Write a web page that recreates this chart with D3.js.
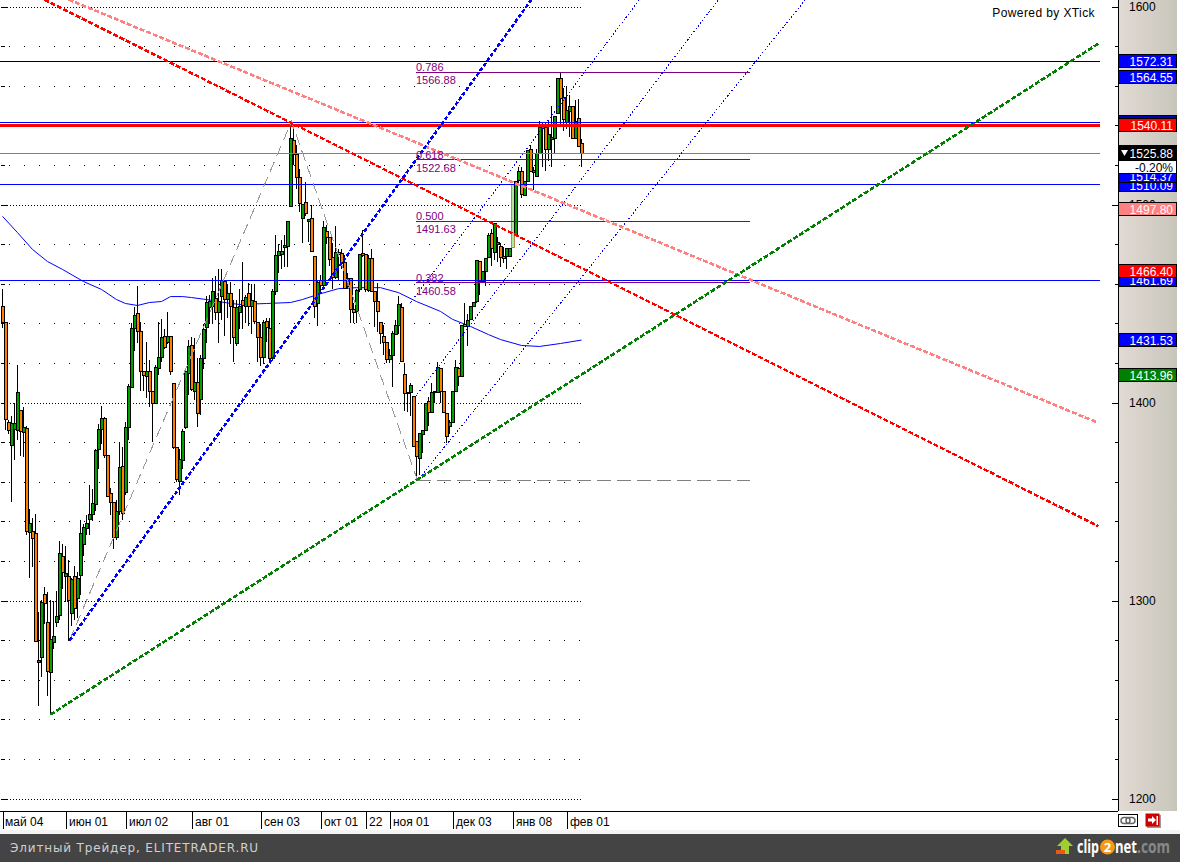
<!DOCTYPE html>
<html><head><meta charset="utf-8">
<script src="https://cdn.jsdelivr.net/npm/d3@7"></script>
<style>html,body{margin:0;padding:0;background:#fff;overflow:hidden}svg{display:block}text{font-family:"Liberation Sans",Arial,sans-serif}</style>
</head><body><div id="c"></div>
<script>
const opens=[1448.5,1440.4,1389.9,1378.3,1386.4,1385.9,1396,1384.9,1386.9,1334.3,
1334.8,1333.8,1268.7,1271.2,1303,1288.9,1263.6,1278.8,1288.9,1292.4,
1322.2,1312.1,1312.1,1293.5,1312.1,1301,1312.6,1328.3,1336.4,1340.9,
1343.5,1348.5,1376.3,1386.4,1391.9,1373.2,1354.1,1349.5,1331.8,1345,
1367.7,1354.6,1387.4,1407.6,1437.4,1445,1435.9,1415.6,1413.1,1415.6,
1405.6,1399.5,1417.2,1422.7,1433.3,1430.3,1433.3,1409.6,1377.3,1360.1,
1370.7,1387.4,1414.6,1428.8,1405.6,1410.1,1401.5,1422.2,1437.9,1448,
1448.5,1452.5,1445.5,1453.5,1461.1,1452,1455,1448,1429.8,1445.5,
1451.5,1448.5,1455,1448.5,1451,1440.4,1432.8,1422.7,1440.9,1437.4,
1422.2,1456,1474.2,1474.7,1478.3,1478.8,1499,1532.3,1525.3,1513.6,
1492.9,1501,1491.4,1492.9,1473.7,1450,1461.6,1459.1,1486.4,1483.3,
1473.2,1463.1,1475.7,1475.2,1470.7,1458.6,1462.6,1447,1446,1457.1,
1475.2,1474.7,1456.5,1472.7,1456,1451,1440.4,1433.3,1430.3,1421.7,
1423.7,1434.4,1438.9,1448,1414.1,1404.5,1405.1,1403,1380.3,1371.7,
1383.9,1385.9,1400.5,1395,1405.1,1405.1,1417.2,1405.6,1394.4,1387.9,
1389.9,1405.6,1417.2,1413.1,1439.4,1438.4,1441.9,1448.5,1451,1471.2,
1461.1,1466.2,1473.2,1485.3,1475.7,1479.8,1478.8,1473.7,1473.7,1473.7,
1510.1,1484.8,1512.1,1516.7,1504.5,1511.6,1527.8,1516.2,1514.1,1525.8,
1538.4,1538.9,1527.8,1532.8,1533.3,1545.9,1563.6,1554,1541.4,1547,
1549.5,1533.3,1543.4,1530.8];
const highs=[1457.1,1440.4,1391.4,1393.4,1400,1418.7,1396,1397.5,1387.9,1346,
1341.9,1343.5,1294,1300.5,1307,1304.5,1300.5,1299.5,1305,1329.8,
1328.3,1327.3,1320.7,1311.6,1317.2,1314.6,1340.9,1338.4,1343,1358.1,
1356.1,1376.3,1388.9,1398,1392.9,1373.2,1356.6,1349.5,1351,1379.8,
1377.3,1390.4,1409.1,1440.4,1448,1458.6,1440.9,1415.6,1430.8,1421.7,
1405.6,1418.7,1440.9,1442.4,1436.9,1445.5,1433.3,1409.6,1377.3,1376.3,
1386.4,1416.7,1431.8,1433.3,1432.8,1422.7,1424.2,1439.4,1454,1454.5,
1463.1,1464.1,1467.2,1467.2,1461.1,1459.6,1461.1,1452,1452,1457.1,
1471.2,1454.5,1460.6,1459.6,1459.6,1440.9,1439.4,1441.9,1442.9,1442.9,
1457.1,1484.8,1479.8,1482.3,1484.8,1491.4,1541.4,1538.9,1530.3,1517.7,
1500,1511.6,1492.4,1499.5,1473.7,1462.1,1464.6,1491.9,1489.4,1483.3,
1480.8,1488.9,1477.3,1477.3,1474.7,1465.6,1462.6,1450.5,1457.1,1474.7,
1486.9,1474.7,1474.7,1477.3,1456,1460.6,1440.4,1438.9,1430.3,1426.8,
1435.9,1441.9,1454,1450.5,1420.2,1405,1409.6,1403,1380.3,1384.4,
1385.9,1399.5,1403,1410.1,1405.6,1420.7,1417.2,1405.6,1394.4,1391.4,
1405.6,1421.7,1417.7,1438.9,1450.5,1444.5,1448.5,1450.5,1471.7,1471.2,
1466.2,1472.7,1485.8,1487.4,1490.4,1483.8,1480.8,1478.3,1477.8,1477.8,
1510.1,1511.6,1518.7,1518.7,1511.6,1527.3,1530.3,1518.7,1527.8,1542.4,
1541.9,1540.4,1542.9,1549.5,1544.4,1563.6,1566.6,1559,1559.6,1555.5,
1549.5,1553,1553.5,1533.3];
const lows=[1437.4,1385.9,1383.9,1350,1371.2,1381.3,1373.2,1372.7,1333.3,1311.6,
1316.7,1278.8,1246.5,1261.6,1287.9,1252,1242.4,1275.3,1286.4,1290.4,
1305.6,1299,1279.3,1286.9,1290.4,1291.4,1303,1322.7,1333.3,1333.3,
1339.9,1345,1366.2,1378.8,1372.2,1352.5,1343,1325.8,1330.8,1343,
1340.9,1353.5,1381.3,1407.6,1425.8,1430.3,1405.6,1405.6,1402.5,1397.5,
1379.8,1399,1414.1,1420.7,1426.8,1429.3,1414.1,1376.3,1360.1,1353.5,
1366.2,1386.4,1404,1405.6,1401.5,1387.4,1393.9,1416.7,1430.3,1439.4,
1439.4,1441.9,1430.3,1441.9,1433.8,1442.9,1429.3,1420.7,1428.3,1436.9,
1436.9,1440.4,1438.4,1434.4,1439.4,1420.7,1418.2,1419.2,1430.8,1420.7,
1421.7,1454.5,1465.6,1467.2,1468.2,1468.2,1498.5,1520.2,1507.6,1496,
1480.8,1494,1481.3,1476.2,1442.9,1438.4,1456,1458.6,1479.8,1468.7,
1457.1,1462.6,1462.1,1467.2,1457.6,1457.1,1440.4,1440.4,1440.4,1456,
1473.7,1456,1456,1456,1437.9,1435.4,1429.3,1424.2,1420.2,1420.2,
1407.6,1434.4,1434.4,1420.7,1395.5,1395,1393,1377.8,1361.1,1363.6,
1374.7,1385.9,1387.9,1395,1400,1405.1,1400,1395,1379.3,1383.9,
1389.9,1405.6,1408.1,1413.1,1438.4,1428.3,1441.9,1448.5,1450.5,1454.5,
1461.1,1458.6,1473.2,1468.7,1472.2,1471.2,1468.2,1470.7,1467.2,1473.7,
1478.3,1484.8,1511.1,1503.5,1504.5,1511.6,1516.7,1507.1,1514.1,1525.8,
1518.7,1516.7,1522.2,1518.7,1525.8,1545.9,1540.4,1536.9,1537.9,1534.3,
1533.3,1533.3,1529.3,1518.7];
const closes=[1440.4,1391.4,1385.9,1389.4,1389.4,1405.1,1385.4,1387.4,1334.8,1338.9,
1331.3,1279.3,1269.7,1299,1298.5,1264.1,1280.3,1281.8,1291.9,1323.7,
1314.1,1313.6,1300,1310.6,1296,1311.1,1333.8,1336.9,1338.9,1343.5,
1349,1375.8,1386.4,1391.9,1373.2,1352.5,1349.5,1331.8,1345,1367.2,
1344,1387.4,1408.1,1437.4,1444,1435.9,1415.6,1413.6,1415.6,1405.6,
1399.5,1417.7,1422.7,1432.8,1427.8,1433.3,1415.6,1377.3,1361.1,1371.2,
1385.4,1415.6,1428.3,1406.6,1410.1,1394.4,1422.2,1436.9,1450.5,1451,
1456,1445.5,1451,1461.6,1452,1455,1448.5,1432.8,1448,1448.5,
1449,1453,1448.5,1451.5,1440.9,1432.8,1422.7,1440.4,1437.9,1422.2,
1456,1474.2,1476.2,1476.2,1479.3,1491.4,1533.3,1525.3,1513.6,1500.5,
1500,1495.4,1492.4,1476.2,1448.5,1460.6,1459.1,1488.4,1483.3,1472.2,
1463.1,1475.7,1474.7,1470.7,1457.6,1462.6,1447,1445.5,1456.5,1474.7,
1474.2,1457.1,1472.7,1456,1451,1446,1434.9,1430.3,1421.7,1423.7,
1434.9,1438.9,1449.5,1420.7,1404.5,1405,1408.6,1377.8,1372.7,1384.4,
1385.9,1399.5,1395,1405.1,1405.6,1417.7,1405.6,1395,1382.8,1389.9,
1405.6,1417.7,1413.1,1438.9,1438.4,1441.4,1448.5,1450.5,1471.7,1461.1,
1466.2,1472.7,1484.3,1477.8,1490.4,1480.8,1473.2,1472.7,1477.8,1477.8,
1478.3,1511.6,1516.7,1505,1511.6,1527.3,1516.7,1517.2,1525.8,1538.9,
1539.4,1527.8,1535.3,1533.8,1544.4,1563.6,1553.5,1542.9,1547.5,1549.5,
1533.3,1541.9,1529.3,1525.88];
const fadedCandles=[170];

const maIndex=[0,5,10,15,20,27,33,38,41,45,49,53,56,60,63,68,74,79,88,96,100,105,112,118,126,132,138,146,150,156,162,166,173,179,186,193];
const maValues=[1494,1485.8,1477.3,1471.2,1467.2,1461.1,1457.1,1452,1450,1449,1450.5,1451,1453.5,1453.5,1453,1452,1450.5,1449.5,1450,1450.5,1452,1454.5,1457.5,1458,1458,1455.5,1451,1446,1442,1438.4,1434.3,1431.8,1428.8,1428.3,1429.8,1431.53];

const blueTrend=[[22.33,1279.8],[176.33,1603.5]];
const greenTrend=[[16,1242.4],[365.33,1581.3]];
const redTrend=[[14,1603.5],[365.33,1337.4]];
const pinkTrend=[[22,1603.5],[365,1389.9]];
const channelLines=[[[136,1450.5],[212.33,1603.5]],[[137.67,1403],[238.67,1603.5]],[[138.33,1360.6],[267.67,1603.5]]];
const zigzag=[[22.33,1279.8],[96.33,1541.9],[138.33,1360.6]];
const zigzagBase=[[138.33,1360.6],[249,1360.6]];

const fibRatios=["0.786","0.618","0.500","0.382"];
const fibValues=[1566.88,1522.68,1491.63,1460.58];
const fibRange=[138,249];

const levelValues=[1572.31,1541.6,1540.11,1525.88,1510.09,1461.69];
const levelColors=["#000000","#0000ff","#ff0000","#808080","#0000ff","#0000ff"];
const levelWidths=[1,1,3,1,1,1];

const badgeValues=[1572.31,1564.55,1541.6,1540.11,1497.80,1461.69,1466.40,1431.53,1413.96,1510.09,1514.37];
const badgeColors=["#0000ff","#0000ff","#0000b0","#ff0000","#ff8080","#0000ff","#ff0000","#0000ff","#008000","#0000ff","#0000ff"];
const lastPrice=1525.88, lastChange="-0.20%";

const majorTicks=[1600,1500,1400,1300,1200];
const minorTicks=[1580,1560,1540,1520,1480,1460,1440,1420,1380,1360,1340,1320,1280,1260,1240,1220];
const monthIndex=[0,21.33,41.33,63.33,86.33,106.33,121.33,129.33,150.33,170.33,188.33];
const monthLabels=["май 04","июн 01","июл 02","авг 01","сен 03","окт 01","22","ноя 01","дек 03","янв 08","фев 01"];

const W=1180,H=862;
const x=d3.scaleLinear().domain([0,193]).range([2.5,581.5]);
const y=d3.scaleLinear().domain([1600,1200]).range([6.5,798.5]);
const svg=d3.select("#c").append("svg").attr("width",W).attr("height",H);
const line=d3.line().x(d=>x(d[0])).y(d=>y(d[1]));

// grid
const plot=svg.append("g");
const dotL=plot.append("g").attr("shape-rendering","crispEdges");
dotL.selectAll(".maj").data(majorTicks).join("line")
 .attr("x1",1).attr("x2",581).attr("y1",d=>Math.round(y(d))+.5).attr("y2",d=>Math.round(y(d))+.5)
 .attr("stroke","#000").attr("stroke-dasharray","1 2");
dotL.selectAll(".min").data(minorTicks).join("line")
 .attr("x1",9).attr("x2",581).attr("y1",d=>Math.round(y(d))+.5).attr("y2",d=>Math.round(y(d))+.5)
 .attr("stroke","#000").attr("stroke-dasharray","1 14");
dotL.selectAll(".lt").data(majorTicks.concat(minorTicks)).join("line")
 .attr("x1",1).attr("x2",d=>majorTicks.includes(d)?7:5).attr("y1",d=>Math.round(y(d))+.5).attr("y2",d=>Math.round(y(d))+.5)
 .attr("stroke","#000");

// moving average under candles
plot.append("path").datum(maIndex.map((d,i)=>[d,maValues[i]])).attr("d",line)
 .attr("fill","none").attr("stroke","#0000ff").attr("stroke-width",1);

// candles
const idx=d3.range(opens.length);
const cg=plot.append("g").attr("shape-rendering","crispEdges");
cg.selectAll(".w").data(idx).join("line")
 .attr("x1",i=>x(i)).attr("x2",i=>x(i)).attr("y1",i=>y(highs[i])).attr("y2",i=>y(lows[i]))
 .attr("stroke","#000");
cg.selectAll(".b").data(idx).join("rect")
 .attr("x",i=>x(i)-1.5).attr("width",3)
 .attr("y",i=>Math.floor(y(Math.max(opens[i],closes[i])))+.5)
 .attr("height",i=>Math.max(1,Math.round(Math.abs(y(opens[i])-y(closes[i])))))
 .attr("fill",i=>fadedCandles.includes(i)?"#b0e8a0":(closes[i]>=opens[i]?"#00a000":"#ff8000"))
 .attr("stroke",i=>fadedCandles.includes(i)?"#b08a50":"#000");

// horizontal levels
const ov=svg.append("g").attr("shape-rendering","crispEdges");
ov.selectAll(".lv").data(levelValues).join("line")
 .attr("x1",0).attr("x2",1100)
 .attr("y1",d=>Math.floor(y(d))+.5).attr("y2",d=>Math.floor(y(d))+.5)
 .attr("stroke",(d,i)=>levelColors[i]).attr("stroke-width",(d,i)=>levelWidths[i]);

// fibonacci
ov.selectAll(".fb").data(fibValues).join("line")
 .attr("x1",x(fibRange[0])-.5).attr("x2",x(fibRange[1]))
 .attr("y1",d=>Math.floor(y(d))+.5).attr("y2",d=>Math.floor(y(d))+.5)
 .attr("stroke","#800080");
const ft=svg.append("g").attr("font-size",11).attr("fill","#800080");
ft.selectAll(".r").data(fibRatios).join("text").attr("x",x(fibRange[0])-.5).attr("y",(d,i)=>y(fibValues[i])-1).text(d=>d);
ft.selectAll(".v").data(fibValues).join("text").attr("x",x(fibRange[0])-.5).attr("y",d=>y(d)+12).text(d=>d.toFixed(2));

// trend lines
function tl(pts,col,w,dash){ov.append("path").datum(pts).attr("d",line).attr("fill","none").attr("stroke",col).attr("stroke-width",w).attr("stroke-dasharray",dash);}
tl(zigzag,"#999999",1,"11 6");
tl(zigzagBase,"#808080",1,"14 6");
channelLines.forEach(l=>tl(l,"#0000ff",1,"1.5 2"));
tl(pinkTrend,"#ff8080",2.6,"5 2");
tl(redTrend,"#ff0000",2.6,"5 2");
tl(blueTrend,"#0000ff",2.6,"4 2");
tl(greenTrend,"#008000",2.6,"5 2");

// Powered by
svg.append("text").attr("x",1095).attr("y",17).attr("text-anchor","end").attr("font-size",12).attr("letter-spacing",".4").attr("fill","#000").text("Powered by XTick");

// right panel
const defs=svg.append("defs");
const gr=defs.append("linearGradient").attr("id","pg");
gr.append("stop").attr("offset",0).attr("stop-color","#e2dad4");
gr.append("stop").attr("offset",1).attr("stop-color","#c8c6bb");
svg.append("rect").attr("x",1118).attr("y",0).attr("width",59).attr("height",811).attr("fill","url(#pg)");
svg.append("line").attr("x1",1118.5).attr("x2",1118.5).attr("y1",0).attr("y2",811).attr("stroke","#000").attr("shape-rendering","crispEdges");

const axMaj=d3.axisRight(y).tickValues(majorTicks).tickSize(-6).tickPadding(11).tickFormat(d3.format("d"));
const gMaj=svg.append("g").attr("transform","translate(1118,0)").call(axMaj);
gMaj.select(".domain").remove();
gMaj.selectAll("text").attr("font-size",12).attr("fill","#000").attr("font-family","Liberation Sans");
gMaj.selectAll("line").attr("shape-rendering","crispEdges");
const axMin=d3.axisRight(y).tickValues(minorTicks).tickSize(-3).tickFormat("");
const gMin=svg.append("g").attr("transform","translate(1118,0)").call(axMin);
gMin.select(".domain").remove();
gMin.selectAll("line").attr("shape-rendering","crispEdges");

// price badges, stacked in the order of badgeValues
const bx=1118.5,bw=58,bh=13;
const bad=svg.append("g");
badgeValues.forEach((v,i)=>{
 const cy=Math.round(y(v));
 bad.append("rect").attr("x",bx).attr("y",cy-6.5).attr("width",bw).attr("height",bh).attr("fill",badgeColors[i]).attr("stroke","#000").attr("shape-rendering","crispEdges");
 bad.append("text").attr("x",1173).attr("y",cy+4.5).attr("text-anchor","end").attr("font-size",12).attr("fill","#fff").text(v.toFixed(2));
});
const cyLast=Math.round(y(lastPrice));
bad.append("rect").attr("x",bx).attr("y",cyLast-7.5).attr("width",bw).attr("height",14).attr("fill","#000").attr("stroke","#000").attr("shape-rendering","crispEdges");
bad.append("path").attr("d",`M1121,${cyLast-3}h7l-3.5,6z`).attr("fill","#fff");
bad.append("text").attr("x",1173).attr("y",cyLast+4.5).attr("text-anchor","end").attr("font-size",12).attr("fill","#fff").text(lastPrice.toFixed(2));
bad.append("rect").attr("x",bx).attr("y",cyLast+7.5).attr("width",bw).attr("height",13).attr("fill","#fff").attr("stroke","#000").attr("shape-rendering","crispEdges");
bad.append("text").attr("x",1173).attr("y",cyLast+18.5).attr("text-anchor","end").attr("font-size",12).attr("fill","#000").text(lastChange);

// bottom axis
svg.append("line").attr("x1",0).attr("x2",1118).attr("y1",811.5).attr("y2",811.5).attr("stroke","#000").attr("shape-rendering","crispEdges");
const axB=d3.axisBottom(x).tickValues(monthIndex).tickSize(17).tickPadding(0).tickFormat((d,i)=>monthLabels[i]);
const gB=svg.append("g").attr("transform","translate(0,812)").call(axB);
gB.select(".domain").remove();
gB.selectAll("line").attr("shape-rendering","crispEdges");
gB.selectAll("text").attr("text-anchor","start").attr("x",2).attr("y",5).attr("dy","0.71em").attr("font-size",12).attr("fill","#000").attr("font-family","Liberation Sans");

// toolbar icons
const ic=svg.append("g");
ic.append("rect").attr("x",1118.5).attr("y",814.5).attr("width",19).attr("height",12).attr("fill","#fff").attr("stroke","#000").attr("shape-rendering","crispEdges");
ic.append("rect").attr("x",1121).attr("y",817.5).attr("width",9).attr("height",6).attr("rx",3).attr("fill","none").attr("stroke","#666").attr("stroke-width",1.5);
ic.append("rect").attr("x",1126).attr("y",817.5).attr("width",9).attr("height",6).attr("rx",3).attr("fill","none").attr("stroke","#666").attr("stroke-width",1.5);
ic.append("rect").attr("x",1147).attr("y",815).attr("width",14).attr("height",13).attr("fill","#999");
ic.append("rect").attr("x",1145.5).attr("y",813.5).attr("width",14).attr("height",13).attr("fill","#d00000");
ic.append("path").attr("d","M1148,818.5h4v-2.5l4,4l-4,4v-2.5h-4z M1156.5,816h1.5v9h-1.5z").attr("fill","#fff");

// footer bar
svg.append("rect").attr("x",0).attr("y",830).attr("width",W).attr("height",4).attr("fill","#f4f4f4");
svg.append("rect").attr("x",0).attr("y",834).attr("width",W).attr("height",28).attr("fill","#444444");
svg.append("text").attr("x",10).attr("y",852).attr("font-size",12).attr("fill","#d0d0d0").style("font-family","DejaVu Sans").attr("letter-spacing",".85").text("Элитный Трейдер, ELITETRADER.RU");
const lg=svg.append("g").style("font-family","Open Sans").attr("font-weight","bold").attr("font-size",17);
lg.append("path").attr("d","M1065,838l8,8h-4v8h-8v-8h-4z").attr("fill","#9ccf2f");
lg.append("rect").attr("x",1056).attr("y",850).attr("width",9).attr("height",4).attr("fill","#e85a10");
lg.append("text").attr("x",1077).attr("y",853).attr("fill","#fff").attr("textLength",22).attr("lengthAdjust","spacingAndGlyphs").style("font-family","Open Sans").text("clip");
lg.append("circle").attr("cx",1107.5).attr("cy",847).attr("r",7.5).attr("fill","#f59a16");
lg.append("text").attr("x",1107.5).attr("y",852).attr("text-anchor","middle").attr("font-size",13).attr("fill","#fff").style("font-family","Open Sans").text("2");
lg.append("text").attr("x",1115).attr("y",853).attr("fill","#fff").attr("textLength",22).attr("lengthAdjust","spacingAndGlyphs").style("font-family","Open Sans").text("net");
lg.append("text").attr("x",1137).attr("y",853).attr("fill","#888").attr("textLength",33).attr("lengthAdjust","spacingAndGlyphs").style("font-family","Open Sans").text(".com");
</script></body></html>
